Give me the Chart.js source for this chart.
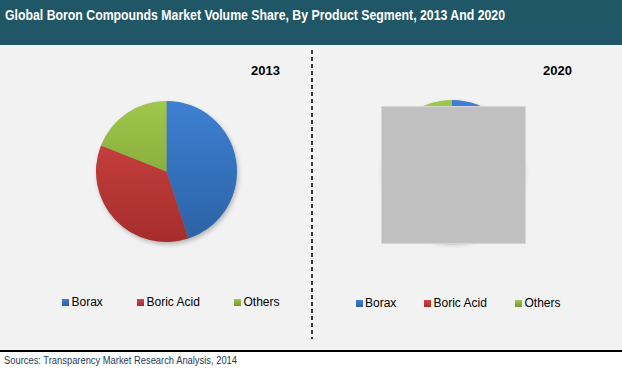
<!DOCTYPE html>
<html>
<head>
<meta charset="utf-8">
<script src="https://cdn.jsdelivr.net/npm/chart.js@4"></script>
<style>
  html,body{margin:0;padding:0;}
  body{width:622px;height:369px;position:relative;overflow:hidden;background:#ffffff;font-family:"Liberation Sans",Arial,sans-serif;}
  #header{position:absolute;left:0;top:0;width:622px;height:45px;background:#1f5766;}
  #title{position:absolute;left:5px;top:7px;color:#fff;font-weight:bold;font-size:15px;line-height:16px;white-space:nowrap;transform-origin:0 0;}
  #panel{position:absolute;left:0;top:46px;width:622px;height:304px;background:#f2f2f2;}
  #bottomline{position:absolute;left:0;top:350px;width:622px;height:2px;background:#000;}
  #source{position:absolute;left:4px;top:355px;font-size:10px;line-height:12px;color:#1f3a57;white-space:nowrap;transform-origin:0 0;}
  #divider{position:absolute;left:311px;top:50px;width:2px;height:289px;
    background:repeating-linear-gradient(to bottom,#3a3a3a 0,#3a3a3a 4px,transparent 4px,transparent 7px);}
  .year{position:absolute;font-weight:bold;font-size:13px;line-height:14px;color:#000;}
  .leg{position:absolute;font-size:12px;line-height:12px;color:#000;white-space:nowrap;}
  .mk{position:absolute;width:7px;height:7px;}
  canvas{position:absolute;}
  #cover{position:absolute;left:381px;top:106px;width:143px;height:136px;background:#c0c0c0;border:1px solid #d6d6d6;}
</style>
</head>
<body>
<div id="header"><div id="title"></div></div>
<div id="panel"></div>
<div id="divider"></div>
<div id="bottomline"></div>
<div id="source"></div>
<canvas id="c2013" width="153" height="153" style="left:90px;top:95px;width:153px;height:153px;"></canvas>
<canvas id="c2020" width="154" height="154" style="left:375px;top:94px;width:154px;height:154px;"></canvas>
<div id="cover"></div>
<script>
// ---- data ----
const titleText = 'Global Boron Compounds Market Volume Share, By Product Segment, 2013 And 2020';
const sourceText = 'Sources: Transparency Market Research Analysis, 2014';
const categories = ['Borax', 'Boric Acid', 'Others'];
const years = ['2013', '2020'];
const share2013 = [45, 36, 19];
const share2020 = [46, 36, 18];

// ---- styles ----
const topColors = ['#3d80d3', '#d24644', '#9fc84c'];
const bottomColors = ['#2c62a4', '#a52d2c', '#76962f'];
const markerColors = ['#3a70bd', '#c43b3a', '#8cb23f'];

document.getElementById('title').textContent = titleText;
document.getElementById('source').textContent = sourceText;
// fit title width to reference
(function(){
  const t = document.getElementById('title');
  const w = t.getBoundingClientRect().width;
  t.style.transform = 'scaleX(' + (500 / w) + ')';
  const s = document.getElementById('source');
  const ws = s.getBoundingClientRect().width;
  s.style.transform = 'scaleX(' + (233 / ws) + ')';
})();

// year labels and legends (layout)
const yearLayout = [{left: 251, top: 64}, {left: 543, top: 64}];
const legendLayout = [
  {xs: [62, 137, 234], top: 298.5},
  {xs: [355.5, 424, 515], top: 299.5}
];
years.forEach((y, i) => {
  const d = document.createElement('div');
  d.className = 'year';
  d.textContent = y;
  d.style.left = yearLayout[i].left + 'px';
  d.style.top = yearLayout[i].top + 'px';
  document.body.appendChild(d);
  categories.forEach((c, j) => {
    const m = document.createElement('div');
    m.className = 'mk';
    m.style.left = legendLayout[i].xs[j] + 'px';
    m.style.top = legendLayout[i].top + 'px';
    m.style.background = 'linear-gradient(' + topColors[j] + ',' + bottomColors[j] + ')';
    document.body.appendChild(m);
    const t = document.createElement('div');
    t.className = 'leg';
    t.textContent = c;
    t.style.left = (legendLayout[i].xs[j] + 9.5) + 'px';
    t.style.top = (legendLayout[i].top - 2.5) + 'px';
    document.body.appendChild(t);
  });
});

const shadowPlugin = {
  id: 'pieShadow',
  beforeDatasetsDraw(chart) {
    const meta = chart.getDatasetMeta(0);
    const arc = meta.data[0];
    if (!arc) return;
    const ctx = chart.ctx;
    ctx.save();
    ctx.shadowColor = 'rgba(0,0,0,0.28)';
    ctx.shadowBlur = 5;
    ctx.shadowOffsetX = 1.5;
    ctx.shadowOffsetY = 2.5;
    ctx.fillStyle = '#888';
    ctx.beginPath();
    ctx.arc(arc.x, arc.y, arc.outerRadius - 0.5, 0, Math.PI * 2);
    ctx.fill();
    ctx.restore();
  }
};

function gradFill(c) {
  const chart = c.chart;
  const a = chart.chartArea;
  if (!a) return topColors[c.dataIndex];
  const g = chart.ctx.createLinearGradient(0, a.top, 0, a.bottom);
  g.addColorStop(0, topColors[c.dataIndex]);
  g.addColorStop(1, bottomColors[c.dataIndex]);
  return g;
}

function makePie(id, values) {
  return new Chart(document.getElementById(id), {
    type: 'pie',
    data: {
      labels: categories,
      datasets: [{
        data: values,
        backgroundColor: gradFill,
        borderWidth: 0
      }]
    },
    options: {
      responsive: false,
      animation: false,
      devicePixelRatio: 1,
      layout: {padding: 6},
      plugins: {legend: {display: false}, tooltip: {enabled: false}}
    },
    plugins: [shadowPlugin]
  });
}
makePie('c2013', share2013);
makePie('c2020', share2020);
</script>
</body>
</html>
